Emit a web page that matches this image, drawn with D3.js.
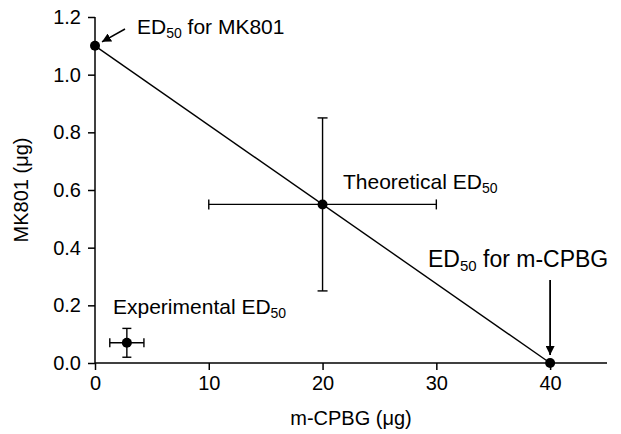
<!DOCTYPE html>
<html>
<head>
<meta charset="utf-8">
<script src="https://cdn.jsdelivr.net/npm/d3@7"></script>
<style>
  body { margin: 0; background: #fff; }
  svg text { font-family: 'Liberation Sans', Arial, sans-serif; fill: #000; }
  .axis path, .axis line { stroke: #000; stroke-width: 1.5; }
  .axis text { font-size: 20px; }
</style>
</head>
<body>
<div id="chart"></div>
<script>
// isobologram data
var lineX = [0, 40];
var lineY = [1.1, 0];
// points: ED50 MK801, theoretical, ED50 m-CPBG, experimental
var pointX = [0, 20, 40, 2.8];
var pointY = [1.1, 0.55, 0, 0.07];
var errX = [0, 10, 0, 1.5];
var errY = [0, 0.3, 0, 0.05];
var xTicks = [0, 10, 20, 30, 40];
var yTicks = [0, 0.2, 0.4, 0.6, 0.8, 1.0, 1.2];

function drawChart () {
  var width = 621;
  var height = 434;
  var svg = d3.select('#chart').append('svg')
    .attr('width', width)
    .attr('height', height);

  var xScale = d3.scaleLinear().domain([0, 45]).range([95, 607]);
  var yScale = d3.scaleLinear().domain([0, 1.2]).range([363, 17]);

  // arrow head
  svg.append('defs').append('marker')
    .attr('id', 'head')
    .attr('viewBox', '0 0 10 10')
    .attr('refX', 10)
    .attr('refY', 5)
    .attr('markerWidth', 9)
    .attr('markerHeight', 9)
    .attr('markerUnits', 'userSpaceOnUse')
    .attr('orient', 'auto')
    .append('path')
    .attr('d', 'M0,0 L10,5 L0,10 Z')
    .attr('fill', '#000');

  // axes
  svg.append('g')
    .attr('class', 'axis')
    .attr('transform', 'translate(0,' + yScale(0) + ')')
    .call(d3.axisBottom(xScale).tickValues(xTicks).tickSize(7).tickSizeOuter(0).tickPadding(6))
    .call(function (g) { g.select('.domain').attr('d', 'M' + xScale(0) + ',0H' + xScale(45)); });
  svg.append('g')
    .attr('class', 'axis')
    .attr('transform', 'translate(' + xScale(0) + ',0)')
    .call(d3.axisLeft(yScale).tickValues(yTicks).tickFormat(d3.format('.1f')).tickSize(7).tickSizeOuter(0).tickPadding(7))
    .call(function (g) { g.select('.domain').attr('d', 'M0,' + yScale(0) + 'V' + yScale(1.2)); });

  // axis titles
  svg.append('text')
    .attr('x', (xScale(0) + xScale(45)) / 2)
    .attr('y', 425)
    .attr('text-anchor', 'middle')
    .style('font-size', '20px')
    .text('m-CPBG (\u03bcg)');
  svg.append('text')
    .attr('transform', 'translate(28,' + (yScale(0) + yScale(1.2)) / 2 + ') rotate(-90)')
    .attr('text-anchor', 'middle')
    .style('font-size', '20px')
    .text('MK801 (\u03bcg)');

  // additivity line
  var line = d3.line()
    .x(function (d, i) { return xScale(lineX[i]); })
    .y(function (d, i) { return yScale(lineY[i]); });
  svg.append('path')
    .datum(lineX)
    .attr('d', line)
    .attr('fill', 'none')
    .attr('stroke', '#000')
    .attr('stroke-width', 1.4);

  // error bars
  var idx = d3.range(pointX.length);
  var bars = svg.append('g').attr('stroke', '#000').attr('stroke-width', 1.4);
  idx.forEach(function (i) {
    var cx = xScale(pointX[i]);
    var cy = yScale(pointY[i]);
    var cap = i === 3 ? 4.5 : 5;
    if (errX[i] > 0) {
      var x0 = xScale(pointX[i] - errX[i]);
      var x1 = xScale(pointX[i] + errX[i]);
      bars.append('line').attr('x1', x0).attr('x2', x1).attr('y1', cy).attr('y2', cy);
      bars.append('line').attr('x1', x0).attr('x2', x0).attr('y1', cy - cap).attr('y2', cy + cap);
      bars.append('line').attr('x1', x1).attr('x2', x1).attr('y1', cy - cap).attr('y2', cy + cap);
    }
    if (errY[i] > 0) {
      var y0 = yScale(pointY[i] - errY[i]);
      var y1 = yScale(pointY[i] + errY[i]);
      bars.append('line').attr('x1', cx).attr('x2', cx).attr('y1', y0).attr('y2', y1);
      bars.append('line').attr('x1', cx - cap).attr('x2', cx + cap).attr('y1', y0).attr('y2', y0);
      bars.append('line').attr('x1', cx - cap).attr('x2', cx + cap).attr('y1', y1).attr('y2', y1);
    }
  });

  // points
  svg.selectAll('circle.pt')
    .data(idx)
    .enter().append('circle')
    .attr('class', 'pt')
    .attr('cx', function (i) { return xScale(pointX[i]); })
    .attr('cy', function (i) { return yScale(pointY[i]); })
    .attr('r', 5)
    .attr('fill', '#000');

  // labels with ED50 subscript
  function label (x, y, size, before, after) {
    var t = svg.append('text').attr('x', x).attr('y', y).style('font-size', size + 'px');
    if (before) t.append('tspan').text(before);
    t.append('tspan').text('ED');
    t.append('tspan').attr('dy', 4).style('font-size', Math.round(size * 0.66) + 'px').text('50');
    if (after) t.append('tspan').attr('dy', -4).text(after);
  }
  label(137, 34, 21, '', ' for MK801');
  label(343, 189, 21, 'Theoretical ', '');
  label(428, 267, 23, '', ' for m-CPBG');
  label(113, 314, 21, 'Experimental ', '');

  // arrows
  svg.append('line')
    .attr('x1', 125).attr('y1', 29)
    .attr('x2', xScale(pointX[0]) + 7).attr('y2', yScale(pointY[0]) - 4)
    .attr('stroke', '#000').attr('stroke-width', 1.5)
    .attr('marker-end', 'url(#head)');
  svg.append('line')
    .attr('x1', xScale(pointX[2])).attr('y1', 280)
    .attr('x2', xScale(pointX[2])).attr('y2', yScale(pointY[2]) - 8)
    .attr('stroke', '#000').attr('stroke-width', 1.8)
    .attr('marker-end', 'url(#head)');
}

window.addEventListener('load', function () {
  drawChart();
});
</script>
</body>
</html>
